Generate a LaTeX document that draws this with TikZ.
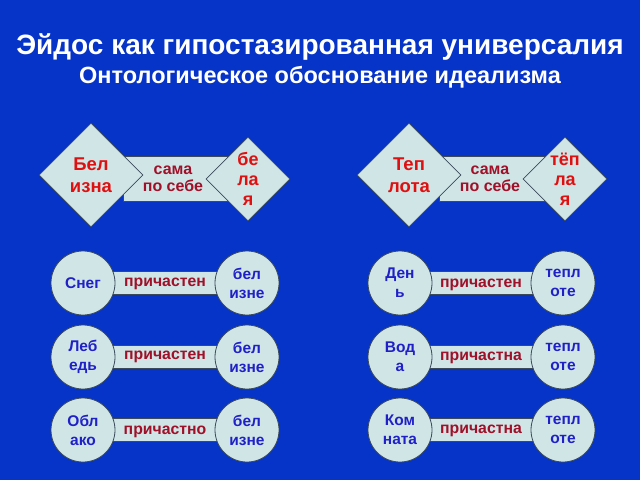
\documentclass[tikz,border=0pt]{standalone}
\usepackage{fontspec}
\setmainfont{Liberation Sans}
\usetikzlibrary{shapes.geometric}
\definecolor{bg}{HTML}{0633C8}
\definecolor{fillc}{HTML}{CFE5E6}
\definecolor{edgec}{HTML}{3A4A5A}
\definecolor{redt}{HTML}{E01010}
\definecolor{darkred}{HTML}{A01028}
\definecolor{bluet}{HTML}{2020C8}
\tikzset{
  dia/.style={diamond,aspect=1,draw=edgec,fill=fillc,line width=0.8pt,inner sep=0pt,
    align=center,text=redt,font=\bfseries\fontsize{18.5}{22}\selectfont},
  bar/.style={rectangle,draw=edgec,fill=fillc,line width=0.8pt,inner sep=0pt,align=center},
  circ/.style={circle,draw=edgec,fill=fillc,line width=0.8pt,minimum size=64pt,inner sep=0pt,
    align=center,text=bluet,font=\bfseries\fontsize{15.5}{19}\selectfont},
  partic/.style={text=darkred,font=\bfseries\fontsize{15.8}{18}\selectfont},
  sebe/.style={text=darkred,font=\bfseries\fontsize{16}{17}\selectfont,align=center},
  ttl/.style={text=white}
}
\begin{document}
\begin{tikzpicture}[x=1pt,y=-1pt]
\fill[bg] (0,0) rectangle (640,480);
\useasboundingbox (0,0) rectangle (640,480);
\node[ttl,font=\bfseries\fontsize{28}{32}\selectfont] (t1) at (320,47) {Эйдос как гипостазированная универсалия};
\node[ttl,font=\bfseries\fontsize{23.5}{26}\selectfont] (t2) at (320,77) {Онтологическое обоснование идеализма};
% left top group
\node[bar,minimum width=104pt,minimum height=45pt] (r1) at (175,178.5) {};
\node[dia,minimum width=104pt,minimum height=104pt] (d1) at (91,175) {Бел\\изна};
\node[dia,minimum width=84pt,minimum height=84pt,font=\bfseries\fontsize{18}{20}\selectfont] (d2) at (248,179) {бе\\ла\\я};
\node[sebe] (s1) at (173,179) {сама\\по себе};
% right top group
\node[bar,minimum width=105pt,minimum height=45pt] (r2) at (492,178.5) {};
\node[dia,minimum width=104pt,minimum height=104pt] (d3) at (409,175) {Теп\\лота};
\node[dia,minimum width=84pt,minimum height=84pt,font=\bfseries\fontsize{18}{20}\selectfont] (d4) at (565,179) {тёп\\ла\\я};
\node[sebe] (s2) at (490,179) {сама\\по себе};
% bars for rows
\foreach \y/\n in {283/a,357/b,430/c}{
  \node[bar,minimum width=164pt,minimum height=23pt] (bl\n) at (165,\y) {};
  \node[bar,minimum width=163pt,minimum height=23pt] (br\n) at (481.5,\y) {};
}
% left circles
\node[circ] (c1) at (83,283) {Снег};
\node[circ] (c2) at (247,283) {бел\\изне};
\node[partic] (p1) at (165,284) {причастен};
\node[circ] (c3) at (83,357) {Леб\\едь};
\node[circ] (c4) at (247,357) {бел\\изне};
\node[partic] (p2) at (165,357) {причастен};
\node[circ] (c5) at (83,430) {Обл\\ако};
\node[circ] (c6) at (247,430) {бел\\изне};
\node[partic] (p3) at (165,432) {причастно};
% right circles
\node[circ] (e1) at (400,283) {Ден\\ь};
\node[circ] (e2) at (563,283) {тепл\\оте};
\node[partic] (q1) at (481,285) {причастен};
\node[circ] (e3) at (400,357) {Вод\\а};
\node[circ] (e4) at (563,357) {тепл\\оте};
\node[partic] (q2) at (481,358) {причастна};
\node[circ] (e5) at (400,430) {Ком\\ната};
\node[circ] (e6) at (563,430) {тепл\\оте};
\node[partic] (q3) at (481,431) {причастна};
\end{tikzpicture}
\end{document}
